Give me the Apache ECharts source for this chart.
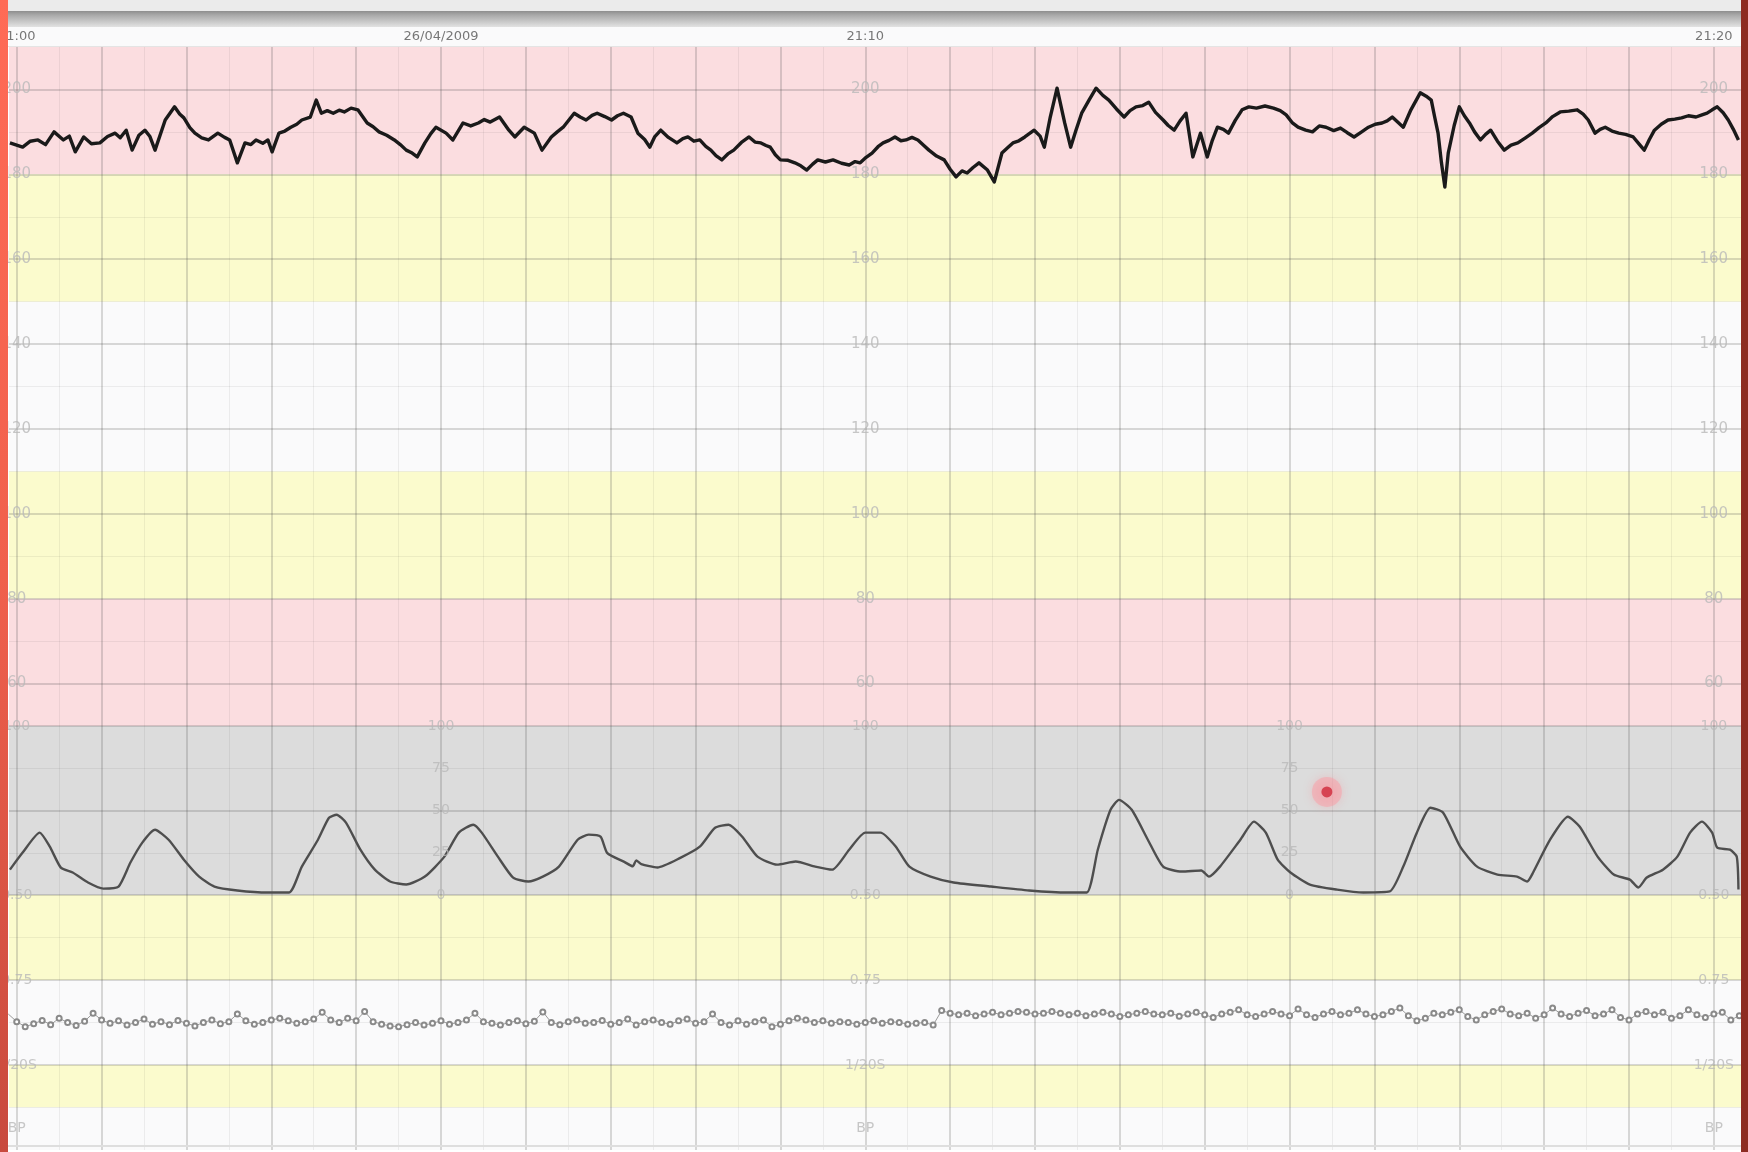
<!DOCTYPE html>
<html><head><meta charset="utf-8">
<script src="https://cdn.jsdelivr.net/npm/echarts@6/dist/echarts.min.js"></script>
<style>html,body{margin:0;padding:0;background:#fff;overflow:hidden}#c{width:1748px;height:1152px}</style>
</head><body><div id="c"></div>
<script>
// ---------------- DATA ----------------
// time in minutes after 21:00
const headerLabels = [[0,'21:00'],[5,'26/04/2009'],[10,'21:10'],[20,'21:20']];
const fhrScaleTimes = [0,10,20];
const fhrScaleValues = [200,180,160,140,120,100,80,60];
const tocoScaleTimes = [5,15];
const tocoScaleValues = [100,75,50,25,0];
const sideLabelTimes = [0,10,20];
const tocoSideLabels = [[100,'100'],[0,'0.50']];
const lowerSideLabels = [[4,'0.75'],[2,'1/20S'],[0.5,'BP']];
const eventMarker = [[15.44,61]];

// fetal heart rate (bpm)
const fhrTrace = [[-0.08,187.4],[0.07,186.4],[0.16,187.8],[0.25,188.1],[0.34,187.0],[0.44,190.0],[0.55,188.1],[0.62,189.0],[0.69,185.3],[0.79,188.8],[0.88,187.2],[0.98,187.4],[1.07,188.9],[1.16,189.7],[1.22,188.6],[1.29,190.4],[1.36,185.7],[1.44,189.2],[1.51,190.4],[1.57,188.9],[1.63,185.7],[1.75,192.8],[1.86,195.9],[1.92,194.2],[1.97,193.3],[2.04,191.0],[2.10,189.7],[2.18,188.6],[2.26,188.1],[2.37,189.7],[2.45,188.7],[2.51,188.1],[2.60,182.7],[2.69,187.4],[2.76,187.0],[2.82,188.1],[2.90,187.3],[2.96,188.1],[3.01,185.3],[3.09,189.7],[3.16,190.2],[3.23,191.1],[3.30,191.8],[3.36,192.8],[3.46,193.5],[3.53,197.5],[3.59,194.4],[3.66,195.0],[3.73,194.4],[3.80,195.1],[3.86,194.7],[3.94,195.6],[4.02,195.2],[4.13,192.1],[4.20,191.2],[4.27,190.0],[4.36,189.2],[4.45,188.1],[4.52,187.0],[4.59,185.7],[4.66,185.0],[4.72,184.1],[4.81,187.4],[4.88,189.6],[4.94,191.1],[5.06,189.7],[5.14,188.1],[5.26,192.1],[5.35,191.4],[5.44,192.1],[5.51,192.9],[5.58,192.3],[5.69,193.5],[5.80,190.4],[5.87,188.8],[5.98,191.1],[6.10,189.7],[6.19,185.7],[6.30,188.8],[6.37,190.0],[6.44,191.1],[6.57,194.4],[6.64,193.5],[6.71,192.8],[6.78,193.9],[6.84,194.4],[6.93,193.6],[7.01,192.8],[7.08,193.8],[7.15,194.4],[7.24,193.5],[7.32,189.7],[7.40,188.2],[7.46,186.4],[7.52,188.9],[7.59,190.4],[7.68,188.7],[7.78,187.4],[7.85,188.4],[7.91,188.8],[7.98,187.8],[8.05,188.1],[8.12,186.6],[8.18,185.7],[8.24,184.4],[8.31,183.4],[8.38,184.8],[8.45,185.7],[8.54,187.5],[8.63,188.8],[8.70,187.6],[8.77,187.4],[8.83,186.8],[8.88,186.4],[8.94,184.6],[9.00,183.4],[9.09,183.3],[9.17,182.7],[9.24,182.0],[9.31,181.0],[9.38,182.4],[9.44,183.4],[9.53,182.9],[9.62,183.4],[9.72,182.6],[9.81,182.2],[9.88,183.0],[9.94,182.7],[10.01,184.0],[10.08,185.0],[10.15,186.5],[10.21,187.4],[10.28,188.0],[10.35,188.8],[10.42,187.9],[10.48,188.1],[10.55,188.7],[10.62,188.1],[10.69,186.8],[10.75,185.7],[10.84,184.3],[10.93,183.4],[11.00,181.2],[11.07,179.4],[11.14,180.8],[11.20,180.3],[11.27,181.6],[11.34,182.7],[11.44,181.0],[11.52,178.2],[11.61,185.0],[11.68,186.3],[11.74,187.4],[11.81,187.9],[11.88,188.8],[11.99,190.4],[12.06,189.0],[12.11,186.4],[12.18,193.5],[12.26,200.3],[12.35,192.1],[12.42,186.4],[12.48,190.2],[12.55,194.4],[12.64,197.6],[12.72,200.3],[12.80,198.6],[12.87,197.5],[12.96,195.4],[13.05,193.5],[13.12,195.0],[13.19,195.9],[13.27,196.2],[13.34,197.0],[13.42,194.6],[13.51,192.8],[13.57,191.5],[13.64,190.4],[13.71,192.6],[13.78,194.4],[13.86,184.1],[13.95,189.7],[14.03,184.1],[14.09,188.0],[14.15,191.1],[14.22,190.6],[14.28,189.7],[14.36,192.7],[14.44,195.2],[14.52,195.9],[14.61,195.6],[14.71,196.1],[14.81,195.6],[14.89,195.0],[14.96,194.0],[15.03,192.2],[15.10,191.1],[15.19,190.4],[15.27,190.0],[15.35,191.4],[15.43,191.1],[15.52,190.3],[15.60,190.9],[15.68,189.8],[15.76,188.8],[15.85,190.0],[15.93,191.1],[16.01,191.8],[16.09,192.1],[16.15,192.6],[16.21,193.5],[16.28,192.2],[16.34,191.1],[16.43,195.2],[16.54,199.2],[16.61,198.4],[16.67,197.5],[16.71,193.5],[16.75,189.7],[16.79,182.7],[16.83,177.0],[16.87,185.0],[16.94,191.5],[17.00,195.9],[17.06,193.8],[17.12,192.1],[17.18,190.0],[17.25,188.1],[17.31,189.4],[17.37,190.4],[17.45,187.8],[17.53,185.7],[17.61,186.9],[17.69,187.4],[17.78,188.6],[17.86,189.7],[17.94,191.0],[18.02,192.1],[18.10,193.6],[18.19,194.7],[18.29,194.9],[18.39,195.2],[18.46,194.2],[18.52,192.8],[18.60,189.7],[18.66,190.6],[18.72,191.1],[18.80,190.2],[18.88,189.7],[18.96,189.4],[19.05,188.8],[19.12,187.1],[19.18,185.7],[19.24,188.2],[19.30,190.4],[19.38,191.8],[19.46,192.8],[19.54,193.0],[19.62,193.3],[19.70,193.8],[19.79,193.5],[19.86,194.0],[19.92,194.4],[19.98,195.2],[20.04,195.9],[20.11,194.5],[20.17,192.8],[20.23,190.6],[20.29,188.1]];

// uterine activity (toco, 0-100)
const tocoTrace = [[-0.08,15.0],[0.07,25.1],[0.27,36.9],[0.39,28.6],[0.52,16.2],[0.66,13.3],[0.84,7.4],[1.02,3.8],[1.20,5.0],[1.34,19.2],[1.48,31.0],[1.63,38.6],[1.79,32.7],[1.97,20.9],[2.15,10.9],[2.33,5.0],[2.60,2.7],[2.96,1.5],[3.21,1.5],[3.36,16.8],[3.55,32.7],[3.68,45.7],[3.77,47.5],[3.88,42.8],[4.05,26.8],[4.22,15.0],[4.40,8.0],[4.59,6.2],[4.81,10.9],[5.04,22.7],[5.21,36.9],[5.38,41.6],[5.48,36.9],[5.67,22.7],[5.85,10.3],[6.03,8.0],[6.20,10.9],[6.39,16.8],[6.61,32.7],[6.74,35.7],[6.88,34.5],[6.96,24.8],[7.16,19.6],[7.26,17.0],[7.30,20.5],[7.36,18.3],[7.55,16.3],[7.82,22.0],[8.05,28.6],[8.23,39.8],[8.39,41.6],[8.55,34.5],[8.73,22.7],[8.96,18.0],[9.18,19.8],[9.41,16.8],[9.61,15.0],[9.81,26.8],[10.00,36.9],[10.18,36.9],[10.36,28.6],[10.52,16.8],[10.77,10.9],[11.04,7.4],[11.48,5.0],[11.93,2.7],[12.38,1.5],[12.61,1.5],[12.74,26.8],[12.89,50.4],[12.99,56.3],[13.14,50.4],[13.33,32.7],[13.51,16.8],[13.73,13.9],[13.96,14.5],[14.05,10.9],[14.18,16.8],[14.42,32.7],[14.58,43.4],[14.72,36.9],[14.86,20.9],[15.01,13.3],[15.24,6.2],[15.56,3.2],[15.87,1.5],[16.18,2.1],[16.34,16.8],[16.50,36.9],[16.66,51.6],[16.81,48.7],[17.01,28.6],[17.21,16.8],[17.45,12.1],[17.68,10.9],[17.80,8.0],[17.87,13.3],[18.07,32.7],[18.28,46.3],[18.42,40.4],[18.63,22.7],[18.82,12.1],[19.01,9.1],[19.11,4.4],[19.21,10.3],[19.40,15.0],[19.57,22.7],[19.72,36.9],[19.86,43.4],[19.98,36.9],[20.04,28.0],[20.19,26.8],[20.27,22.7],[20.29,3.2]];

// small marker trace in the lower panel, one reading every 0.1 min from -0.1 min
const mhrStart = -0.1;
const mhrStep = 0.1;
const mhrValues = [
3.20,3.02,2.90,2.97,3.05,2.95,3.10,3.00,2.93,3.03,
3.22,3.06,2.98,3.04,2.94,3.00,3.08,2.96,3.02,2.95,
3.05,2.98,2.92,3.00,3.06,2.97,3.02,3.20,3.04,2.96,
3.00,3.06,3.10,3.04,2.98,3.02,3.08,3.24,3.06,3.00,
3.10,3.04,3.26,3.02,2.96,2.92,2.90,2.95,3.00,2.94,
2.98,3.04,2.96,3.00,3.06,3.22,3.02,2.98,2.94,3.00,
3.04,2.97,3.03,3.25,3.00,2.95,3.02,3.06,2.98,3.00,
3.05,2.96,3.00,3.08,2.94,3.02,3.06,3.00,2.96,3.04,
3.08,2.98,3.02,3.20,3.00,2.94,3.04,2.96,3.02,3.06,
2.90,2.96,3.04,3.10,3.06,3.00,3.04,2.98,3.02,3.00,
2.96,3.00,3.04,2.98,3.02,3.00,2.96,2.98,3.00,2.94,
3.28,3.22,3.18,3.22,3.16,3.20,3.24,3.18,3.22,3.26,
3.24,3.20,3.22,3.26,3.22,3.18,3.22,3.16,3.20,3.24,
3.20,3.14,3.18,3.22,3.26,3.20,3.18,3.22,3.15,3.20,
3.24,3.18,3.12,3.20,3.24,3.30,3.18,3.14,3.20,3.26,
3.20,3.16,3.32,3.18,3.12,3.20,3.26,3.18,3.22,3.30,
3.20,3.14,3.18,3.26,3.34,3.16,3.04,3.10,3.22,3.18,
3.24,3.30,3.14,3.06,3.18,3.26,3.32,3.20,3.16,3.22,
3.10,3.18,3.34,3.20,3.14,3.22,3.28,3.16,3.20,3.30,
3.12,3.06,3.20,3.26,3.18,3.24,3.10,3.16,3.30,3.18,
3.12,3.20,3.24,3.06,3.16];

// zone bands
const fhrBands = [[180,210,'pink'],[150,180,'yellow'],[110,150,'white'],[80,110,'yellow'],[50,80,'pink']];
const tocoBands = [[0,100,'gray']];
const lowerBands = [[4,6,'yellow'],[2,4,'white'],[1,2,'yellow'],[0,1,'white']];

// ---------------- CHART ----------------
const BAND = {pink:'#fbdde0', yellow:'#fbfbcd', white:'#fafafb', gray:'#dcdcdc'};
const X_MIN = -0.091, X_MAX = 20.32;
const grids = [
  {left:9, right:7, top:27, height:20},
  {left:9, right:7, top:47, height:679},
  {left:9, right:7, top:726, height:169},
  {left:9, right:7, top:895, height:255}
];
const yRanges = [[0,1],[50,210],[0,100],[0,6]];
const FONT = 'DejaVu Sans';
const MAJOR = 'rgba(70,70,70,0.27)', MINOR = 'rgba(70,70,70,0.08)';

function bandSeries(gi, bands){
  return {type:'line', xAxisIndex:gi, yAxisIndex:gi, data:[], z:1, silent:true,
    markArea:{silent:true, data: bands.map(b=>[{yAxis:b[0], itemStyle:{color:BAND[b[2]]}},{yAxis:b[1]}])}};
}
function gridSeries(gi, hMajor, hMinor){
  const d = [];
  for (let m=0; m<=20; m+=0.5){
    const major = Number.isInteger(m);
    d.push({xAxis:m, lineStyle:{color: major?MAJOR:MINOR, width: major?1.5:1, type:'solid'}});
  }
  hMajor.forEach(v=>d.push({yAxis:v, lineStyle:{color:MAJOR, width:1.5, type:'solid'}}));
  hMinor.forEach(v=>d.push({yAxis:v, lineStyle:{color:MINOR, width:1, type:'solid'}}));
  return {type:'line', xAxisIndex:gi, yAxisIndex:gi, data:[], z:2, silent:true,
    markLine:{silent:true, symbol:['none','none'], label:{show:false}, animation:false, data:d}};
}
function labelSeries(gi, items, color, size){
  return {type:'scatter', xAxisIndex:gi, yAxisIndex:gi, symbolSize:0, z:6, silent:true,
    itemStyle:{color:'transparent'},
    data: items.map(it=>({value:[it[0],it[1]], name:it[2]})),
    label:{show:true, position:'inside', formatter:'{b}', color:color, fontSize:size, fontFamily:FONT}};
}

const fhrLabelItems = [];
fhrScaleTimes.forEach(t=>fhrScaleValues.forEach(v=>fhrLabelItems.push([t,v,String(v)])));
const tocoLabelItems = [];
tocoScaleTimes.forEach(t=>tocoScaleValues.forEach(v=>tocoLabelItems.push([t,v,String(v)])));
sideLabelTimes.forEach(t=>tocoSideLabels.forEach(l=>tocoLabelItems.push([t,l[0],l[1]])));
const lowerLabelItems = [];
sideLabelTimes.forEach(t=>lowerSideLabels.forEach(l=>lowerLabelItems.push([t,l[0],l[1]])));
const headerItems = headerLabels.map(h=>[h[0],0.5,h[1]]);
const mhrData = mhrValues.map((v,i)=>[+(mhrStart + i*mhrStep).toFixed(2), v]);

const fhrMajor=[], fhrMinor=[];
for (let v=60; v<=200; v+=20) fhrMajor.push(v);
for (let v=70; v<=190; v+=20) fhrMinor.push(v);

const chart = echarts.init(document.getElementById('c'), null, {renderer:'canvas'});
chart.setOption({
  animation:false,
  backgroundColor:'#ffffff',
  grid: grids,
  xAxis: grids.map((g,i)=>({type:'value', gridIndex:i, min:X_MIN, max:X_MAX, show:false})),
  yAxis: grids.map((g,i)=>({type:'value', gridIndex:i, min:yRanges[i][0], max:yRanges[i][1], show:false})),
  series: [
    bandSeries(0, [[0,1,'white']]),
    bandSeries(1, fhrBands),
    bandSeries(2, tocoBands),
    bandSeries(3, lowerBands),
    gridSeries(1, fhrMajor.concat([50]), fhrMinor),
    gridSeries(2, [50,0], [25,75]),
    gridSeries(3, [2,4], [1,3,5]),
    labelSeries(0, headerItems, '#555555', 13),
    labelSeries(1, fhrLabelItems, '#b9b9b9', 15),
    labelSeries(2, tocoLabelItems, '#b9b9b9', 14),
    labelSeries(3, lowerLabelItems, '#b9b9b9', 14),
    {type:'line', xAxisIndex:1, yAxisIndex:1, data:fhrTrace, symbol:'none', z:5,
      lineStyle:{color:'#1a1a1a', width:3.4, join:'round'}, silent:true},
    {type:'line', xAxisIndex:2, yAxisIndex:2, data:tocoTrace, symbol:'none', z:5, smooth:0.2,
      lineStyle:{color:'#4e4e4e', width:2.4}, silent:true},
    {type:'line', xAxisIndex:3, yAxisIndex:3, data:mhrData, symbol:'emptyCircle', symbolSize:5, z:5,
      itemStyle:{color:'#8a8a8a', borderWidth:1}, lineStyle:{color:'#9a9a9a', width:1}, silent:true},
    {type:'scatter', xAxisIndex:2, yAxisIndex:2, data:eventMarker, symbolSize:30, z:7, silent:true,
      itemStyle:{color:'rgba(252,150,160,0.55)', shadowBlur:10, shadowColor:'rgba(255,120,135,0.6)'}},
    {type:'scatter', xAxisIndex:2, yAxisIndex:2, data:eventMarker, symbolSize:11, z:8, silent:true,
      itemStyle:{color:'#d0283a'}}
  ],
  graphic: [
    {type:'rect', shape:{x:0,y:0,width:1748,height:11}, style:{fill:'#ebebeb'}, z:100},
    {type:'rect', shape:{x:0,y:11,width:1748,height:16}, z:100,
      style:{fill:new echarts.graphic.LinearGradient(0,0,0,1,[{offset:0,color:'#8e8e8e'},{offset:0.25,color:'#a9a9a9'},{offset:1,color:'#e2e2e2'}])}},
    {type:'rect', shape:{x:0,y:46,width:1748,height:1}, style:{fill:'#e4e4e4'}, z:100},
    {type:'rect', shape:{x:0,y:1145,width:1748,height:2}, style:{fill:'#dedede'}, z:100},
    {type:'rect', shape:{x:0,y:0,width:8,height:1152}, z:101,
      style:{fill:new echarts.graphic.LinearGradient(0,0,0,1,[{offset:0,color:'#ff6b56'},{offset:0.5,color:'#f0604c'},{offset:1,color:'#c84a3e'}])}},
    {type:'rect', shape:{x:1741,y:0,width:7,height:1152}, style:{fill:'#8d2c22'}, z:101}
  ]
});
</script>
</body></html>
